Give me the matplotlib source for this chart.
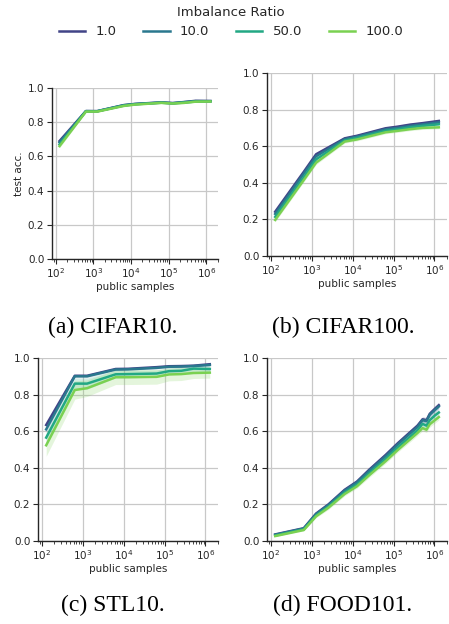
import matplotlib
matplotlib.use("Agg")
import matplotlib.pyplot as plt
import numpy as np

# imbalance ratios and colours (viridis, 4 levels)
ratios = ["1.0", "10.0", "50.0", "100.0"]
colors = ["#414487", "#2a788e", "#22a884", "#7ad151"]

x_common = [128, 640, 1280, 6400, 12800, 64000, 128000, 256000, 512000, 1280000]
x_food = [128, 640, 1280, 2560, 6400, 12800, 25600, 64000, 128000, 256000,
          384000, 512000, 640000, 768000, 1024000, 1280000]

# CIFAR10
cifar10_r1 = [0.690, 0.865, 0.865, 0.900, 0.907, 0.916, 0.912, 0.918, 0.925, 0.924]
cifar10_r10 = [0.682, 0.865, 0.864, 0.899, 0.906, 0.915, 0.911, 0.917, 0.923, 0.923]
cifar10_r50 = [0.670, 0.864, 0.864, 0.897, 0.905, 0.914, 0.910, 0.915, 0.921, 0.922]
cifar10_r100 = [0.660, 0.862, 0.862, 0.895, 0.903, 0.913, 0.909, 0.913, 0.920, 0.921]
cifar10_std = [0.010, 0.004, 0.004, 0.004, 0.004, 0.004, 0.004, 0.004, 0.004, 0.004]

# CIFAR100
cifar100_r1 = [0.242, 0.460, 0.556, 0.643, 0.657, 0.698, 0.707, 0.718, 0.726, 0.738]
cifar100_r10 = [0.230, 0.450, 0.545, 0.638, 0.652, 0.692, 0.700, 0.711, 0.719, 0.730]
cifar100_r50 = [0.214, 0.430, 0.528, 0.631, 0.645, 0.684, 0.692, 0.703, 0.711, 0.720]
cifar100_r100 = [0.197, 0.415, 0.510, 0.625, 0.637, 0.676, 0.684, 0.693, 0.700, 0.703]
cifar100_std = [0.010, 0.010, 0.010, 0.008, 0.008, 0.008, 0.008, 0.008, 0.008, 0.008]

# STL10
stl10_r1 = [0.634, 0.903, 0.903, 0.940, 0.941, 0.950, 0.955, 0.956, 0.958, 0.966]
stl10_r10 = [0.610, 0.900, 0.900, 0.937, 0.938, 0.946, 0.952, 0.953, 0.956, 0.962]
stl10_r50 = [0.565, 0.860, 0.860, 0.911, 0.912, 0.915, 0.928, 0.930, 0.942, 0.940]
stl10_r100 = [0.523, 0.825, 0.835, 0.895, 0.895, 0.897, 0.910, 0.912, 0.918, 0.920]
stl10_std_r1 = [0.008, 0.005, 0.005, 0.004, 0.004, 0.004, 0.004, 0.004, 0.004, 0.004]
stl10_std_r10 = [0.012, 0.008, 0.008, 0.006, 0.006, 0.006, 0.006, 0.006, 0.006, 0.006]
stl10_std_r50 = [0.035, 0.030, 0.030, 0.020, 0.020, 0.020, 0.018, 0.018, 0.015, 0.015]
stl10_std_r100 = [0.060, 0.050, 0.045, 0.040, 0.040, 0.040, 0.035, 0.035, 0.030, 0.030]

# FOOD101
food_r1 = [0.036, 0.070, 0.150, 0.200, 0.280, 0.325, 0.390, 0.470, 0.535, 0.595,
           0.630, 0.665, 0.660, 0.695, 0.722, 0.742]
food_r10 = [0.034, 0.068, 0.147, 0.196, 0.275, 0.320, 0.384, 0.463, 0.528, 0.588,
            0.623, 0.660, 0.655, 0.690, 0.716, 0.735]
food_r50 = [0.030, 0.064, 0.140, 0.188, 0.265, 0.308, 0.370, 0.448, 0.512, 0.570,
            0.605, 0.640, 0.630, 0.660, 0.686, 0.702]
food_r100 = [0.027, 0.060, 0.135, 0.182, 0.257, 0.299, 0.360, 0.436, 0.498, 0.556,
             0.590, 0.617, 0.608, 0.638, 0.660, 0.677]
food_std = [0.004, 0.005, 0.008, 0.010, 0.010, 0.010, 0.012, 0.012, 0.012, 0.014,
            0.014, 0.015, 0.015, 0.016, 0.016, 0.016]

captions = ["(a) CIFAR10.", "(b) CIFAR100.", "(c) STL10.", "(d) FOOD101."]

panels = [
    (x_common, [cifar10_r1, cifar10_r10, cifar10_r50, cifar10_r100],
     [cifar10_std] * 4),
    (x_common, [cifar100_r1, cifar100_r10, cifar100_r50, cifar100_r100],
     [cifar100_std] * 4),
    (x_common, [stl10_r1, stl10_r10, stl10_r50, stl10_r100],
     [stl10_std_r1, stl10_std_r10, stl10_std_r50, stl10_std_r100]),
    (x_food, [food_r1, food_r10, food_r50, food_r100], [food_std] * 4),
]

W, H = 449, 624
# axes boxes in pixels: left, top, right, bottom
boxes = [(52, 88, 218, 259), (267, 73, 447, 256),
         (38, 358, 218, 541), (267, 358, 447, 541)]
caption_pos = [(113, 327), (343, 327), (113, 605), (343, 605)]

fig = plt.figure(figsize=(W / 100, H / 100), dpi=100)
text_col = "#262626"

handles = []
for i, (box, (xs, ys, stds)) in enumerate(zip(boxes, panels)):
    l, t, r, b = box
    ax = fig.add_axes([l / W, 1 - b / H, (r - l) / W, (b - t) / H])
    x = np.array(xs)
    for j in range(4):
        y = np.array(ys[j])
        s = np.array(stds[j])
        ax.fill_between(x, y - s, y + s, color=colors[j], alpha=0.2, lw=0)
        line, = ax.plot(x, y, color=colors[j], lw=1.8, label=ratios[j])
        if i == 0:
            handles.append(line)
    ax.set_xscale("log")
    ax.set_ylim(0, 1.0)
    ax.set_yticks([0.0, 0.2, 0.4, 0.6, 0.8, 1.0])
    ax.grid(True, which="major", color="#c8c8c8", lw=0.9)
    ax.set_axisbelow(True)
    for side in ["top", "right"]:
        ax.spines[side].set_visible(False)
    for side in ["left", "bottom"]:
        ax.spines[side].set_color(text_col)
        ax.spines[side].set_linewidth(1.0)
    ax.tick_params(axis="both", which="major", labelsize=7.5, length=3.5,
                   color=text_col, labelcolor=text_col, pad=2)
    ax.tick_params(axis="x", which="minor", length=2, color=text_col)
    ax.set_xlabel("public samples", fontsize=7.5, color=text_col, labelpad=1)
    if i == 0:
        ax.set_ylabel("test acc.", fontsize=7.5, color=text_col, labelpad=3)
    cx, cy = caption_pos[i]
    fig.text(cx / W, 1 - cy / H, captions[i], ha="center", va="center",
             fontsize=17, family="Liberation Serif", color="black")

leg = fig.legend(handles=handles, labels=ratios, loc="center",
                 bbox_to_anchor=(231 / W, 1 - 22 / H), ncol=4, frameon=False,
                 title="Imbalance Ratio", fontsize=9.5, title_fontsize=9.5,
                 borderaxespad=0, handlelength=2.0, columnspacing=2.0)
for txt in leg.get_texts():
    txt.set_color(text_col)
leg.get_title().set_color(text_col)

fig.savefig("out.png", dpi=100)
